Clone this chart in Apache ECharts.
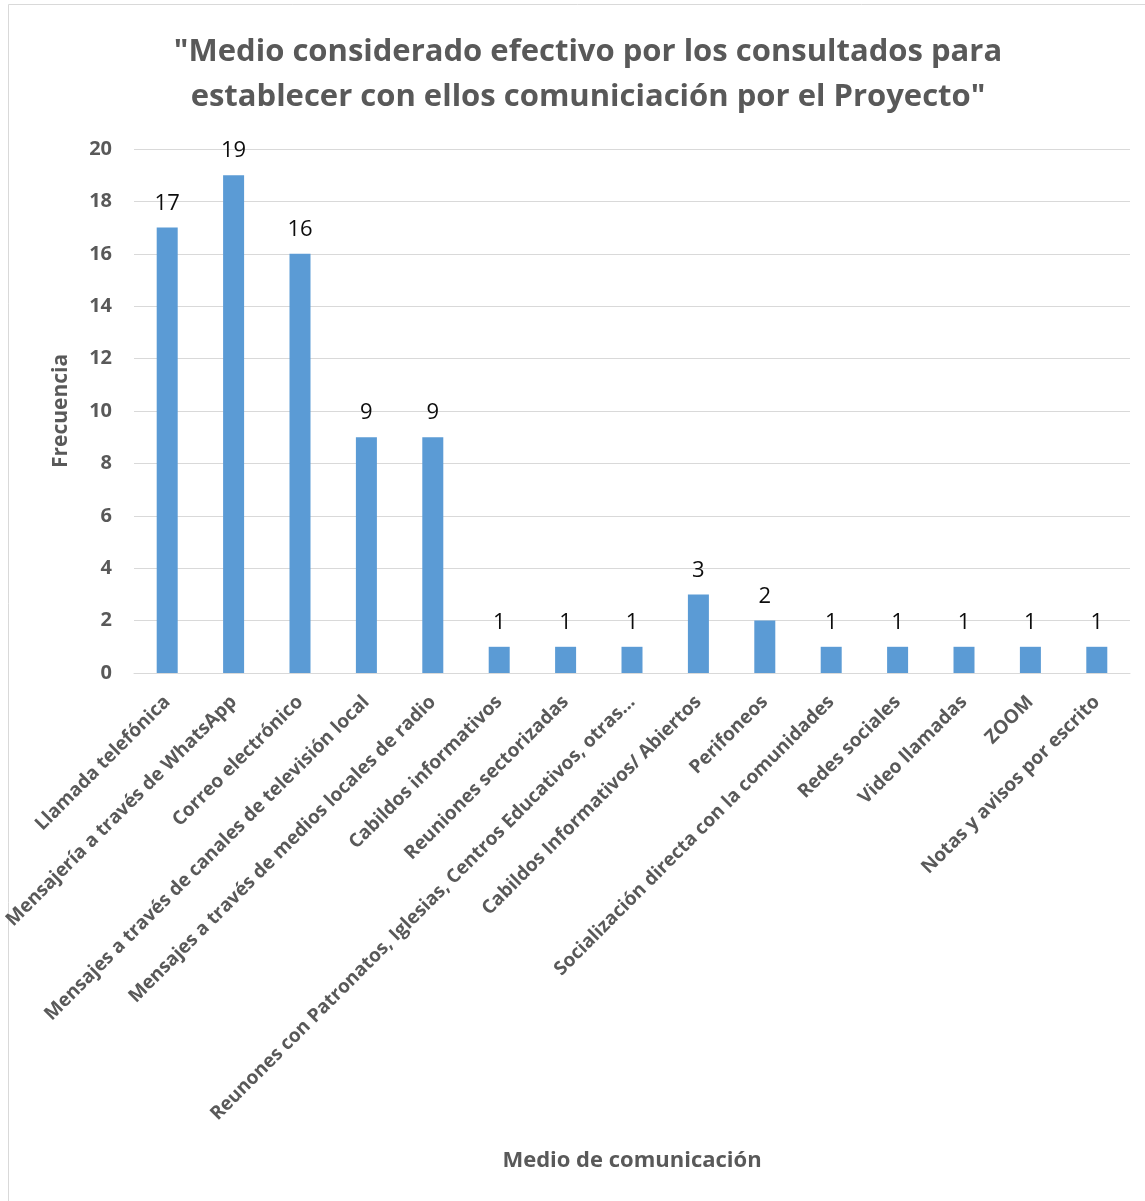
<!DOCTYPE html>
<html>
<head>
<meta charset="utf-8">
<script src="https://cdn.jsdelivr.net/npm/echarts@6/dist/echarts.min.js"></script>
<style>
  html, body { margin: 0; padding: 0; background: #fff; }
  #chart { width: 1145px; height: 1201px; }
</style>
</head>
<body>
<div id="chart"></div>
<script>
// categorias (eje x)
var categorias = [
  'Llamada telefónica',
  'Mensajería a través de WhatsApp',
  'Correo electrónico',
  'Mensajes a través de canales de televisión local',
  'Mensajes a través de medios locales de radio',
  'Cabildos informativos',
  'Reuniones sectorizadas',
  'Reunones con Patronatos, Iglesias, Centros Educativos, otras...',
  'Cabildos Informativos/ Abiertos',
  'Perifoneos',
  'Socialización directa con la comunidades',
  'Redes sociales',
  'Video llamadas',
  'ZOOM',
  'Notas y avisos por escrito'
]
// frecuencia
var frecuencia = [17, 19, 16, 9, 9, 1, 1, 1, 3, 2, 1, 1, 1, 1, 1]
var ticksY = [0, 2, 4, 6, 8, 10, 12, 14, 16, 18, 20]

var gris = '#595959'
var myChart = echarts.init(document.getElementById('chart'))

var option = {
  backgroundColor: '#fff',
  animation: false,
  title: {
    text: '"Medio considerado efectivo por los consultados para\nestablecer con ellos comuniciación por el Proyecto"',
    left: 583,
    top: 25,
    textAlign: 'center',
    textStyle: {
      color: gris,
      fontFamily: 'Open Sans, sans-serif',
      fontWeight: 'bold',
      fontSize: 31,
      lineHeight: 45
    }
  },
  graphic: [{
    type: 'rect',
    shape: { x: 8.5, y: 4.5, width: 1140, height: 1200 },
    style: { fill: 'none', stroke: '#d9d9d9', lineWidth: 1 },
    silent: true
  }],
  grid: {
    left: 134,
    right: 15,
    top: 149,
    bottom: 528,
    containLabel: false
  },
  xAxis: {
    type: 'category',
    data: categorias,
    name: 'Medio de comunicación',
    nameLocation: 'middle',
    nameGap: 477,
    nameTextStyle: {
      color: gris,
      fontFamily: 'Open Sans, sans-serif',
      fontWeight: 'bold',
      fontSize: 22
    },
    axisLine: { lineStyle: { color: '#d9d9d9' } },
    axisTick: { show: false },
    axisLabel: {
      interval: 0,
      rotate: 45,
      margin: 26,
      color: gris,
      fontFamily: 'Open Sans, sans-serif',
      fontWeight: 'bold',
      fontSize: 19
    }
  },
  yAxis: {
    type: 'value',
    min: 0,
    max: 20,
    interval: 2,
    name: 'Frecuencia',
    nameLocation: 'middle',
    nameGap: 62,
    nameTextStyle: {
      color: gris,
      fontFamily: 'Open Sans, sans-serif',
      fontWeight: 'bold',
      fontSize: 21
    },
    axisLine: { show: false },
    axisTick: { show: false },
    axisLabel: {
      margin: 22,
      color: gris,
      fontFamily: 'Open Sans, sans-serif',
      fontWeight: 'bold',
      fontSize: 20,
      formatter: function (v) { return ticksY.indexOf(v) > -1 ? v : '' }
    },
    splitLine: { lineStyle: { color: '#d9d9d9', width: 1 } }
  },
  series: [{
    type: 'bar',
    data: frecuencia,
    barWidth: 21,
    itemStyle: { color: '#5b9bd5' },
    label: {
      show: true,
      position: 'top',
      distance: 13,
      color: '#0d0d0d',
      fontFamily: 'Open Sans, sans-serif',
      fontSize: 22
    }
  }]
}

myChart.setOption(option)
</script>
</body>
</html>
